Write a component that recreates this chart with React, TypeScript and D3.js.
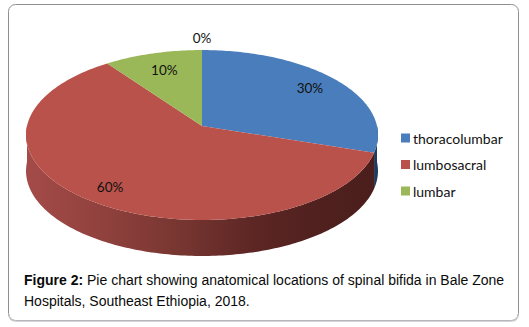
import * as d3 from "d3";

const categories = ["thoracolumbar", "lumbosacral", "lumbar", ""];
const values = [30, 60, 10, 0];
const legendItems = ["thoracolumbar", "lumbosacral", "lumbar"];
const captionBold = "Figure 2:";
const captionLine1 = " Pie chart showing anatomical locations of spinal bifida in Bale Zone";
const captionLine2 = "Hospitals, Southeast Ethiopia, 2018.";

const width = 529;
const height = 327;

const colors = d3.scaleOrdinal<string, string>().domain(categories).range(["#4a7dbb", "#ba524c", "#9ab858", "#8064a2"]);

// pie is tilted, back edge is smaller than the front one
const cx = 202;
const cy = 126;
const radiusX = 175;
const radiusY = 84;
const tilt = 0.106;
const depth = 36;
const labelRadius = [0.8, 0.83, 0.75, 1.18];

function project(angle: number, r = 1): [number, number] {
  const w = 1 + tilt * r * Math.cos(angle);
  return [cx + (radiusX * r * Math.sin(angle)) / w, cy - (radiusY * r * Math.cos(angle)) / w];
}

const pie = d3.pie<number>().sort(null);
const slices = pie(values);

const line = d3.line<[number, number]>();
const step = Math.PI / 180;

function rim(a0: number, a1: number) {
  return d3.range(a0, a1, step).concat(a1).map((a) => project(a));
}

function topPath(a0: number, a1: number) {
  return line([project(0, 0), ...rim(a0, a1)]) + "Z";
}

function wallPath(a0: number, a1: number) {
  const upper = rim(a0, a1);
  const lower = upper.map(([x, y]) => [x, y + depth] as [number, number]).reverse();
  return line([...upper, ...lower]) + "Z";
}

const wallStart = Math.PI / 2;
const wallEnd = (Math.PI * 3) / 2;

export default function App() {
  const legendY = d3.scalePoint<string>().domain(legendItems).range([138, 191]);

  return (
    <svg
      width={width}
      height={height}
      viewBox={`0 0 ${width} ${height}`}
      style={{ position: "absolute", left: 0, top: 0, background: "#fff" }}
    >
      <defs>
        <linearGradient id="redWall" gradientUnits="userSpaceOnUse" x1={26} x2={378} y1={0} y2={0}>
          <stop offset="0" stopColor="#a44b49" />
          <stop offset="0.22" stopColor="#90413d" />
          <stop offset="0.45" stopColor="#763530" />
          <stop offset="0.65" stopColor="#5c2624" />
          <stop offset="0.85" stopColor="#4f201e" />
          <stop offset="1" stopColor="#4a1e1c" />
        </linearGradient>
      </defs>

      <rect x={8.5} y={4.5} width={510} height={316} rx={7} fill="#fff" stroke="#8f8f8f" strokeWidth={1} />
      <path d="M9 314 Q9 321 16 321 L511 321 Q518 321 518 314" fill="none" stroke="#c6c6cb" strokeWidth={1.4} />

      {/* side wall */}
      {slices.map((s, i) => {
        const a0 = Math.max(s.startAngle, wallStart);
        const a1 = Math.min(s.endAngle, wallEnd);
        if (a1 <= a0) return null;
        return <path key={i} d={wallPath(a0, a1)} fill={i === 0 ? "#1f3a5c" : "url(#redWall)"} />;
      })}

      {/* top face */}
      {slices.map((s, i) =>
        s.endAngle > s.startAngle ? (
          <path key={i} d={topPath(s.startAngle, s.endAngle)} fill={colors(categories[i])} />
        ) : null
      )}

      {slices.map((s, i) => {
        const [x, y] = project((s.startAngle + s.endAngle) / 2, labelRadius[i]);
        return (
          <text
            key={i}
            x={x}
            y={y}
            textAnchor="middle"
            dominantBaseline="central"
            fontFamily="Lato, 'Open Sans', sans-serif"
            fontSize={13.5}
            fill="#111"
          >
            {d3.format(".0%")(s.data / 100)}
          </text>
        );
      })}

      {legendItems.map((name) => (
        <g key={name} transform={`translate(401,${legendY(name)})`}>
          <rect x={0} y={-4.5} width={9} height={9} fill={colors(name)} />
          <text x={12} y={0} dominantBaseline="central" fontFamily="Lato, 'Open Sans', sans-serif" fontSize={14} fill="#111">
            {name}
          </text>
        </g>
      ))}

      <g fontFamily="'Liberation Sans', Arial, sans-serif" fontSize={14} fill="#0a0a0a">
        <text x={24} y={285} xmlSpace="preserve">
          <tspan fontWeight="bold">{captionBold}</tspan>
          {captionLine1}
        </text>
        <text x={24} y={306}>
          {captionLine2}
        </text>
      </g>
    </svg>
  );
}
